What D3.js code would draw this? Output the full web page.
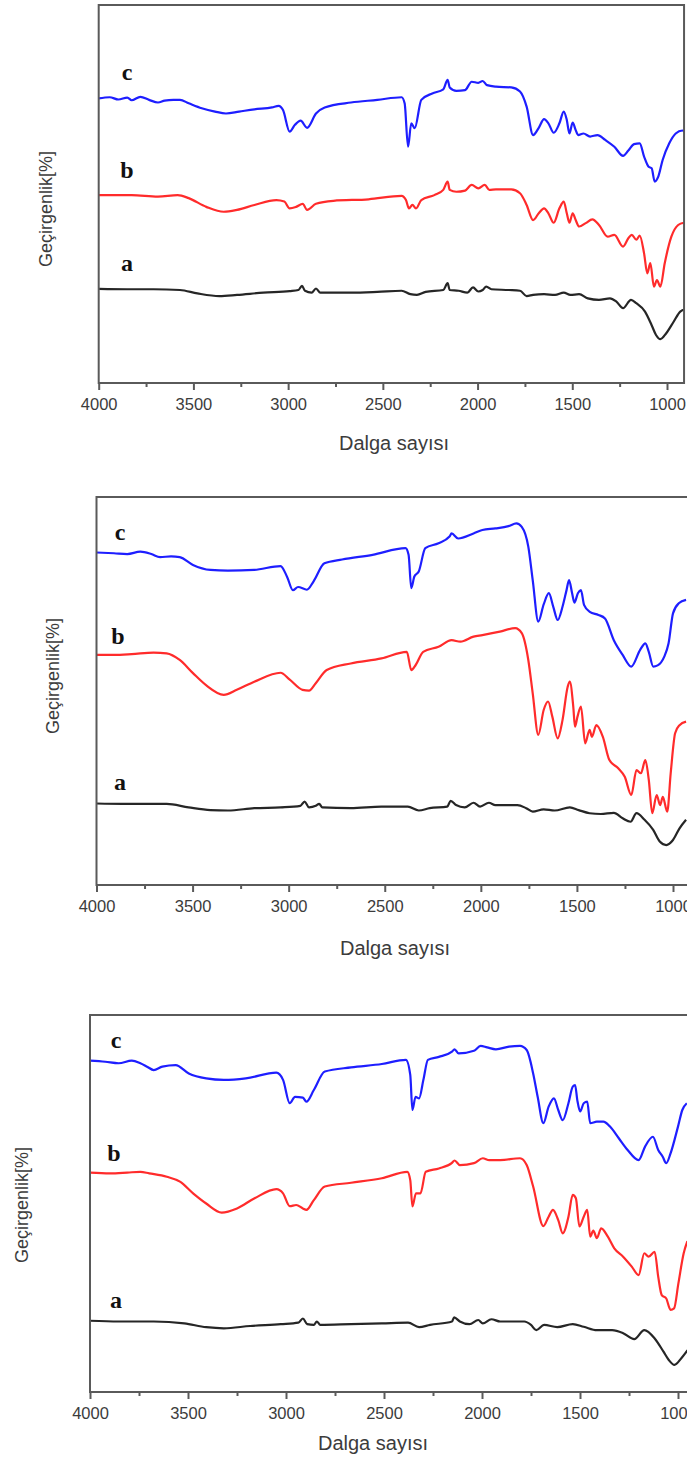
<!DOCTYPE html>
<html>
<head>
<meta charset="utf-8">
<script src="https://cdn.jsdelivr.net/npm/d3@7"></script>
<style>
html,body{margin:0;padding:0;background:#fff;}
svg{display:block;}
</style>
</head>
<body>
<svg id="chart" width="687" height="1461"></svg>
<script>
// ---- data ----
const majorTicks = [4000, 3500, 3000, 2500, 2000, 1500, 1000];
const minorTicks = [3750, 3250, 2750, 2250, 1750, 1250];
const seriesNames = ["a", "b", "c"];
const xTitle = "Dalga sayısı";
const yTitle = "Geçirgenlik[%]";

// Panel 1 (wavenumber, transmittance in arbitrary %)
const p1c = [[4000,75.3],[3942,75.6],[3896,75.0],[3849,75.5],[3826,74.8],[3780,75.7],[3734,74.9],[3687,74.2],[3652,74.7],[3606,74.9],[3571,74.9],[3525,74.0],[3456,72.7],[3386,71.8],[3328,71.3],[3259,71.8],[3178,72.4],[3085,72.9],[3050,73.3],[3027,72.2],[2992,66.5],[2964,68.3],[2934,69.4],[2900,67.5],[2853,71.3],[2807,72.9],[2668,74.2],[2529,74.9],[2401,75.6],[2385,74.0],[2367,62.5],[2350,68.7],[2332,67.4],[2297,74.9],[2239,76.6],[2181,77.7],[2158,80.2],[2147,78.2],[2112,77.3],[2066,77.5],[2031,79.7],[1996,79.4],[1973,79.9],[1950,78.8],[1903,78.4],[1822,78.2],[1776,77.1],[1741,73.1],[1707,65.6],[1677,67.5],[1649,69.8],[1626,68.7],[1598,66.2],[1568,68.7],[1545,71.8],[1529,69.6],[1515,66.0],[1498,68.9],[1482,66.9],[1469,65.6],[1441,66.0],[1406,65.2],[1367,65.6],[1326,64.3],[1278,62.5],[1232,60.1],[1204,61.5],[1174,63.2],[1144,63.4],[1121,59.9],[1097,57.2],[1081,56.8],[1065,53.3],[1046,54.6],[1023,59.0],[988,63.4],[954,66.0],[919,66.8],[907,66.4]];
const p1b = [[4000,49.7],[3826,49.7],[3687,49.3],[3583,49.7],[3525,48.9],[3432,46.6],[3340,45.3],[3270,45.8],[3178,47.1],[3062,48.4],[3020,48.0],[2992,46.2],[2958,46.6],[2923,47.4],[2900,45.8],[2853,47.4],[2761,48.2],[2575,48.6],[2401,49.5],[2378,48.4],[2362,46.2],[2344,47.1],[2325,46.2],[2297,48.4],[2228,49.7],[2181,51.1],[2158,53.3],[2147,51.1],[2112,50.6],[2066,50.9],[2031,52.4],[1996,51.5],[1962,52.4],[1938,51.1],[1903,51.2],[1822,51.2],[1776,50.2],[1741,47.1],[1707,43.1],[1677,44.9],[1649,46.2],[1626,44.9],[1598,42.4],[1568,46.2],[1545,48.0],[1529,44.9],[1515,42.4],[1498,44.9],[1482,43.1],[1464,41.4],[1429,42.3],[1394,43.3],[1359,41.8],[1313,38.7],[1278,39.2],[1232,36.1],[1204,38.3],[1186,39.2],[1162,37.9],[1144,39.0],[1121,34.3],[1104,29.0],[1088,31.7],[1069,25.5],[1053,27.2],[1035,25.5],[1012,31.7],[977,38.7],[941,41.8],[911,42.4]];
const p1a = [[4000,24.9],[3849,24.8],[3710,24.8],[3571,24.6],[3479,23.7],[3363,23.0],[3270,23.3],[3131,23.9],[2992,24.3],[2946,24.6],[2927,25.7],[2911,24.4],[2876,23.9],[2853,25.0],[2830,23.9],[2668,23.9],[2529,24.1],[2401,24.4],[2355,23.5],[2320,23.3],[2274,24.1],[2181,24.6],[2158,26.4],[2147,24.6],[2100,24.4],[2054,23.9],[2024,25.3],[1996,24.2],[1973,24.6],[1954,25.5],[1927,24.8],[1834,24.6],[1776,24.4],[1741,23.0],[1707,23.3],[1649,23.5],[1591,23.3],[1545,23.9],[1510,23.3],[1464,23.5],[1418,22.4],[1359,22.0],[1301,22.4],[1267,21.5],[1232,19.8],[1190,22.0],[1162,21.1],[1116,18.9],[1081,15.3],[1058,12.7],[1035,11.6],[1005,13.1],[965,16.2],[930,18.9],[902,19.5]];

// Panel 2
const p2c = [[4000,85.7],[3909,85.5],[3840,85.3],[3772,85.9],[3715,85.3],[3669,84.5],[3612,84.7],[3567,84.5],[3498,82.5],[3407,81.2],[3316,81.0],[3179,81.2],[3042,82.2],[3008,79.4],[2978,76.0],[2951,76.8],[2905,76.1],[2871,78.2],[2814,82.9],[2722,83.9],[2563,85.1],[2392,86.8],[2376,85.1],[2362,76.5],[2346,79.5],[2323,80.8],[2289,86.8],[2220,88.1],[2163,89.8],[2152,90.6],[2118,89.3],[2038,90.6],[1992,91.5],[1924,91.9],[1856,92.5],[1815,93.2],[1787,92.3],[1753,87.2],[1730,78.6],[1701,67.9],[1673,72.3],[1646,75.2],[1623,71.7],[1600,68.3],[1575,71.7],[1554,76.0],[1541,78.6],[1525,75.2],[1513,72.8],[1495,75.2],[1479,76.0],[1463,72.2],[1433,70.4],[1388,69.6],[1354,68.7],[1308,63.1],[1262,59.3],[1217,56.3],[1171,60.6],[1144,62.3],[1126,60.1],[1103,56.3],[1080,56.6],[1046,58.8],[1023,62.3],[1000,70.0],[970,72.6],[932,73.5]];
const p2b = [[4000,59.3],[3909,59.3],[3817,59.5],[3703,59.9],[3635,59.7],[3567,58.0],[3498,54.6],[3430,51.5],[3338,49.0],[3270,50.3],[3179,52.4],[3042,54.7],[2996,53.0],[2928,50.3],[2894,50.1],[2859,52.0],[2802,55.4],[2677,57.1],[2517,58.4],[2385,60.1],[2362,55.4],[2339,56.7],[2300,60.1],[2220,61.4],[2152,63.1],[2106,62.7],[2038,64.0],[1992,64.4],[1901,65.3],[1821,66.2],[1787,64.9],[1753,58.0],[1730,49.4],[1701,38.7],[1673,45.1],[1650,47.3],[1628,43.4],[1600,37.8],[1575,42.5],[1548,51.1],[1537,52.4],[1519,46.0],[1510,40.8],[1497,43.4],[1479,46.0],[1457,36.5],[1434,40.0],[1422,38.2],[1399,41.2],[1365,38.2],[1331,32.2],[1285,30.1],[1251,27.9],[1217,23.2],[1190,29.6],[1167,28.8],[1144,32.2],[1126,27.1],[1108,18.5],[1085,23.2],[1067,20.6],[1053,22.7],[1030,18.9],[1012,28.8],[989,39.1],[966,41.2],[932,42.1]];
const p2a = [[4000,21.0],[3863,20.9],[3635,20.9],[3521,20.0],[3407,19.3],[3316,19.2],[3179,19.8],[3042,20.0],[2939,20.4],[2917,21.5],[2894,20.0],[2859,20.4],[2841,20.9],[2825,20.0],[2677,19.8],[2517,20.2],[2380,20.2],[2323,19.2],[2266,19.8],[2175,20.2],[2157,21.7],[2129,20.6],[2084,20.0],[2038,21.2],[2004,20.2],[1958,21.2],[1924,20.6],[1810,20.6],[1764,19.8],[1730,18.9],[1673,19.5],[1616,19.2],[1537,20.0],[1491,19.3],[1434,18.5],[1376,18.3],[1308,18.6],[1262,17.2],[1221,16.3],[1190,18.5],[1148,16.8],[1103,14.2],[1069,11.2],[1035,10.3],[1000,11.6],[966,14.6],[932,16.8]];

// Panel 3
const p3c = [[4000,87.9],[3922,87.6],[3854,87.2],[3787,87.9],[3743,87.2],[3709,86.3],[3675,85.4],[3631,86.3],[3563,86.7],[3496,84.5],[3407,83.2],[3317,82.8],[3205,83.2],[3049,84.7],[3015,82.8],[2981,76.6],[2954,78.3],[2914,78.1],[2896,77.0],[2858,80.1],[2802,85.0],[2668,86.1],[2511,87.0],[2388,88.1],[2366,84.1],[2355,74.8],[2339,78.3],[2321,77.9],[2299,82.8],[2276,88.1],[2220,88.9],[2153,90.3],[2140,90.9],[2119,89.8],[2041,90.5],[2007,91.8],[1974,91.4],[1929,90.9],[1862,91.6],[1806,91.8],[1772,90.7],[1739,84.5],[1716,78.3],[1687,71.3],[1660,75.7],[1633,77.9],[1611,74.8],[1588,72.1],[1559,76.6],[1537,81.0],[1525,81.4],[1514,77.5],[1499,74.4],[1481,76.6],[1463,77.0],[1448,71.3],[1414,71.7],[1381,71.7],[1347,70.4],[1302,67.3],[1257,64.2],[1201,61.5],[1168,65.1],[1128,67.7],[1101,64.2],[1078,62.4],[1060,60.7],[1038,63.3],[1000,70.4],[978,74.8],[955,76.6]];
const p3b = [[4000,58.2],[3899,58.0],[3810,58.2],[3743,58.4],[3698,58.0],[3608,57.1],[3541,55.8],[3474,52.7],[3407,50.0],[3328,47.6],[3250,48.7],[3160,51.4],[3049,53.8],[3015,52.7],[2981,49.3],[2948,49.6],[2914,48.7],[2896,48.3],[2858,50.9],[2802,54.5],[2668,55.5],[2511,56.7],[2381,58.4],[2366,56.2],[2355,49.2],[2337,52.7],[2314,52.7],[2287,58.4],[2220,59.3],[2153,60.8],[2140,61.4],[2113,60.2],[2041,60.7],[1996,62.0],[1963,61.5],[1907,61.5],[1806,62.0],[1772,60.2],[1739,54.5],[1687,44.0],[1660,46.5],[1638,48.3],[1611,45.6],[1588,42.1],[1559,46.5],[1537,52.3],[1521,51.4],[1503,43.9],[1481,46.5],[1463,48.3],[1448,41.2],[1432,42.8],[1414,40.8],[1392,43.4],[1358,41.2],[1325,38.1],[1280,35.9],[1235,33.2],[1201,31.0],[1172,36.8],[1150,35.9],[1119,37.2],[1101,30.6],[1083,25.7],[1060,24.8],[1038,21.8],[1020,22.2],[998,28.8],[971,36.8],[952,40.0]];
const p3a = [[4000,18.9],[3854,18.7],[3675,18.7],[3519,18.2],[3407,17.2],[3317,16.9],[3183,17.5],[3026,18.0],[2937,18.4],[2914,19.5],[2892,18.0],[2858,17.8],[2843,18.7],[2825,17.8],[2668,18.0],[2511,18.2],[2377,18.4],[2321,17.2],[2265,17.8],[2153,18.7],[2142,19.8],[2113,18.7],[2064,18.0],[2019,19.1],[1996,18.2],[1952,19.3],[1907,18.7],[1784,18.7],[1750,17.8],[1723,16.4],[1683,17.8],[1616,17.2],[1537,18.0],[1481,17.3],[1414,16.4],[1336,16.4],[1280,15.6],[1223,14.0],[1172,16.4],[1119,14.2],[1074,10.7],[1047,8.5],[1018,7.2],[984,8.9],[951,11.1]];

// ---- layout ----
const panels = [
  {x4000: 98.7, x1000: 667, xEnd: 910, top: 5, bottom: 383, series: [p1a, p1b, p1c],
   labelPos: [[127,263],[127,170],[127,72]], xTitlePos: [394, 443], yTitlePos: [46, 209]},
  {x4000: 96.5, x1000: 673, xEnd: 880, top: 497, bottom: 885, series: [p2a, p2b, p2c],
   labelPos: [[120,782],[118,636],[120,532]], xTitlePos: [395, 948], yTitlePos: [53, 676]},
  {x4000: 90, x1000: 678, xEnd: 880, top: 1015, bottom: 1392, series: [p3a, p3b, p3c],
   labelPos: [[116,1300],[114,1153],[116,1040]], xTitlePos: [373, 1443], yTitlePos: [22, 1205]}
];
const colors = ["#262626", "#ff2b2b", "#1e1eff"];
const font = "Arial, 'Liberation Sans', sans-serif";

const svg = d3.select("#chart");

panels.forEach((p, i) => {
  const x = d3.scaleLinear().domain([4000, 1000]).range([p.x4000, p.x1000]);
  const y = d3.scaleLinear().domain([0, 100]).range([p.bottom, p.top]);
  const xRight = x(p.xEnd);
  const g = svg.append("g");

  const clipId = "clip" + i;
  g.append("clipPath").attr("id", clipId).append("rect")
    .attr("x", p.x4000).attr("y", p.top).attr("width", xRight - p.x4000).attr("height", p.bottom - p.top);

  const line = d3.line().x(d => x(d[0])).y(d => y(d[1])).curve(d3.curveMonotoneX);
  const curves = g.append("g").attr("clip-path", `url(#${clipId})`);
  p.series.forEach((s, k) => {
    curves.append("path").datum(s.slice().reverse())
      .attr("d", line)
      .attr("fill", "none")
      .attr("stroke", colors[k])
      .attr("stroke-width", 2.2)
      .attr("stroke-linejoin", "round");
  });

  // frame
  g.append("rect")
    .attr("x", p.x4000).attr("y", p.top)
    .attr("width", xRight - p.x4000).attr("height", p.bottom - p.top)
    .attr("fill", "none").attr("stroke", "#5a5a5a").attr("stroke-width", 2);

  // axes
  const major = d3.axisBottom(x).tickValues(majorTicks).tickSize(7).tickPadding(8).tickFormat(d3.format("d"));
  const ax = g.append("g").attr("transform", `translate(0,${p.bottom})`).call(major);
  ax.select(".domain").remove();
  ax.selectAll("line").attr("stroke", "#5a5a5a").attr("stroke-width", 2);
  ax.selectAll("text").attr("font-family", font)
    .attr("font-size", 16.5).attr("fill", "#3c3c3c");

  const minor = d3.axisBottom(x).tickValues(minorTicks).tickSize(4).tickFormat("");
  const axm = g.append("g").attr("transform", `translate(0,${p.bottom})`).call(minor);
  axm.select(".domain").remove();
  axm.selectAll("line").attr("stroke", "#5a5a5a").attr("stroke-width", 2);

  // titles
  g.append("text").text(xTitle)
    .attr("x", p.xTitlePos[0]).attr("y", p.xTitlePos[1])
    .attr("text-anchor", "middle").attr("dominant-baseline", "central")
    .attr("font-family", font).attr("font-size", 20).attr("fill", "#3c3c3c");
  g.append("text").text(yTitle)
    .attr("transform", `translate(${p.yTitlePos[0]},${p.yTitlePos[1]}) rotate(-90)`)
    .attr("text-anchor", "middle").attr("dominant-baseline", "central")
    .attr("font-family", font).attr("font-size", 18).attr("fill", "#3c3c3c");

  // series letters
  seriesNames.forEach((n, k) => {
    g.append("text").text(n)
      .attr("x", p.labelPos[k][0]).attr("y", p.labelPos[k][1])
      .attr("text-anchor", "middle").attr("dominant-baseline", "central")
      .attr("font-family", "'Liberation Serif', 'Times New Roman', serif")
      .attr("font-weight", "bold").attr("font-size", 24).attr("fill", "#111");
  });
});
</script>
</body>
</html>
